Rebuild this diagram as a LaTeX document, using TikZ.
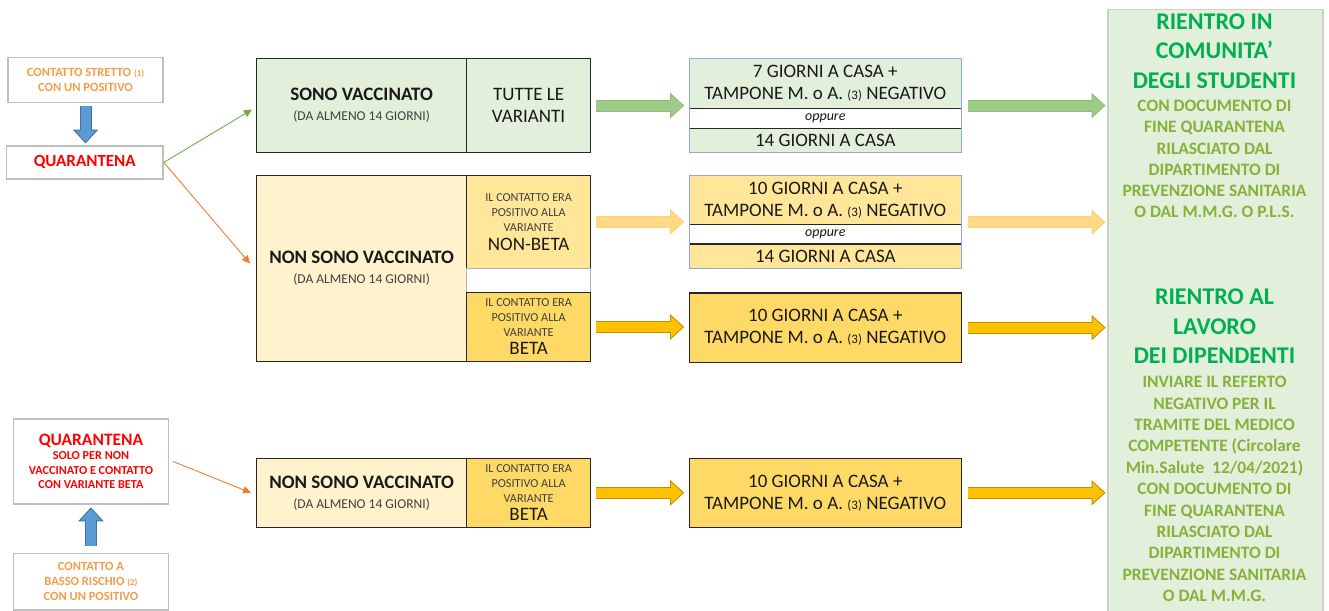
\documentclass[tikz,border=0pt]{standalone}
\usepackage{fontspec}
\setmainfont{Carlito}
\usetikzlibrary{arrows.meta}
\definecolor{vgreen}{HTML}{E2EFDA}
\definecolor{nvcell}{HTML}{FFF2CC}
\definecolor{nbcell}{HTML}{FFE699}
\definecolor{btcell}{HTML}{FFD966}
\definecolor{resedge}{HTML}{8FAADC}
\definecolor{garrow}{HTML}{9FCB88}
\definecolor{garrowe}{HTML}{8CBD74}
\definecolor{yarrow}{HTML}{FFD986}
\definecolor{yarrowe}{HTML}{FFD06C}
\definecolor{oarrow}{HTML}{FFC000}
\definecolor{oarrowe}{HTML}{C09000}
\definecolor{barrow}{HTML}{5B9BD5}
\definecolor{barrowe}{HTML}{41719C}
\definecolor{lgreen}{HTML}{70AD47}
\definecolor{lorange}{HTML}{ED7D31}
\definecolor{otext}{HTML}{F39C4A}
\definecolor{rtitle}{HTML}{00B050}
\definecolor{rsub}{HTML}{86B13A}
\definecolor{pedge}{HTML}{C8D4C0}

\tikzset{
  cell/.style={draw=black!85, line width=1.2pt, inner sep=0pt, anchor=north west, align=center, text=black!90},
  gbox/.style={draw=black!25, line width=1.5pt, inner sep=0pt, anchor=north west, align=center},
  big/.style={font=\fontsize{19}{22}\selectfont},
  small/.style={font=\fontsize{12.2}{15}\selectfont, text=black!75},
  thinarr/.style={draw=#1, line width=0.9pt, -{Triangle[length=8pt,width=7.5pt]}},
  blockarr/.style 2 args={draw=#1, line width=10pt,
    -{Triangle[length=11.5pt,width=21pt,line width=0pt]},
    preaction={draw=#2, line width=12pt, shorten >=-1.5pt,
      -{Triangle[length=14pt,width=25.6pt,line width=0pt]}}},
}
\newcommand{\dagiorni}{{\fontsize{13.5}{16}\selectfont\mdseries\color{black!75}(DA ALMENO 14 GIORNI)}}
\newcommand{\tampone}{TAMPONE M. o A. {\fontsize{13}{13}\selectfont(3)} NEGATIVO}

\begin{document}
\begin{tikzpicture}[x=1pt,y=-1pt]
\useasboundingbox (0,0) rectangle (1329,610);

\node[gbox, minimum width=155pt, minimum height=45pt, text=otext, font=\fontsize{12.5}{15}\selectfont\bfseries] (cs) at (7.3,56.7) {CONTATTO STRETTO {\fontsize{9}{9}\selectfont(1)}\\CON UN POSITIVO};
\node[gbox, minimum width=156.6pt, minimum height=33.3pt, text=red, font=\fontsize{17}{20}\selectfont\bfseries] (q1) at (5.7,145) {QUARANTENA};
\node[gbox, minimum width=155pt, minimum height=85pt, text=red, font=\fontsize{12.2}{14.5}\selectfont\bfseries] (q2) at (12.7,418.3) {{\fontsize{17.4}{18}\selectfont QUARANTENA}\\SOLO PER NON\\VACCINATO E CONTATTO\\CON VARIANTE BETA};
\node[gbox, minimum width=155pt, minimum height=56.6pt, text=otext, font=\fontsize{12.5}{15}\selectfont\bfseries] (lr) at (12.7,552.7) {CONTATTO A\\BASSO RISCHIO {\fontsize{9}{9}\selectfont(2)}\\CON UN POSITIVO};

\node[cell, big, fill=vgreen, minimum width=210pt, minimum height=93.4pt] (sv) at (256,58.3) {\bfseries SONO VACCINATO\\[-2pt]\dagiorni};
\node[cell, big, fill=vgreen, minimum width=124pt, minimum height=93.4pt] (sva) at (466,58.3) {TUTTE LE\\VARIANTI};

\node[cell, big, fill=nvcell, minimum width=210pt, minimum height=186pt] (nsv) at (256,175) {\bfseries NON SONO VACCINATO\\[-2pt]\dagiorni};
\node[cell, small, fill=nbcell, minimum width=124pt, minimum height=92.7pt] (nb) at (466,175) {IL CONTATTO ERA\\POSITIVO ALLA\\VARIANTE\\[4pt]{\fontsize{19}{19}\selectfont\color{black!90}NON-BETA}};
\node[cell, draw=black!30, fill=white, minimum width=124pt, minimum height=24pt] (gap) at (466,267.7) {};
\node[cell, small, fill=btcell, minimum width=124pt, minimum height=69.3pt] (bt) at (466,291.7) {IL CONTATTO ERA\\POSITIVO ALLA\\VARIANTE\\[3pt]{\fontsize{19}{19}\selectfont\color{black!90}BETA}};

\node[cell, big, fill=nvcell, minimum width=210pt, minimum height=69pt] (nsv2) at (256,457.7) {\bfseries NON SONO VACCINATO\\[-2pt]\dagiorni};
\node[cell, small, fill=btcell, minimum width=124pt, minimum height=69pt] (bt2) at (466,457.7) {IL CONTATTO ERA\\POSITIVO ALLA\\VARIANTE\\[3pt]{\fontsize{19}{19}\selectfont\color{black!90}BETA}};

\node[cell, big, fill=vgreen, minimum width=272pt, minimum height=49.4pt] (r1a) at (688.7,58.3) {7 GIORNI A CASA +\\\tampone};
\node[cell, fill=white, minimum width=272pt, minimum height=20pt, font=\fontsize{14}{14}\selectfont\itshape] (r1b) at (688.7,107.7) {oppure};
\node[cell, big, fill=vgreen, minimum width=272pt, minimum height=24pt] (r1c) at (688.7,127.7) {14 GIORNI A CASA};
\node[draw=resedge, line width=1.2pt, inner sep=0pt, anchor=north west, minimum width=272pt, minimum height=93.4pt] (r1) at (688.7,58.3) {};

\node[cell, big, fill=nbcell, minimum width=272pt, minimum height=49pt] (r2a) at (688.7,175) {10 GIORNI A CASA +\\\tampone};
\node[cell, fill=white, minimum width=272pt, minimum height=19.3pt, font=\fontsize{14}{14}\selectfont\itshape] (r2b) at (688.7,224) {oppure};
\node[cell, big, fill=nbcell, minimum width=272pt, minimum height=24.7pt] (r2c) at (688.7,243.3) {14 GIORNI A CASA};
\node[draw=resedge, line width=1.2pt, inner sep=0pt, anchor=north west, minimum width=272pt, minimum height=93pt] (r2) at (688.7,175) {};

\node[cell, big, fill=btcell, minimum width=272pt, minimum height=69.4pt] (r3) at (688.7,292.3) {10 GIORNI A CASA +\\\tampone};
\node[cell, big, fill=btcell, minimum width=272pt, minimum height=69pt] (r4) at (688.7,457.7) {10 GIORNI A CASA +\\\tampone};

\node[draw=pedge, line width=1.5pt, fill=vgreen, inner sep=0pt, anchor=north west, minimum width=215pt, minimum height=606pt] (panel) at (1107,9) {};
\node[text=rtitle, align=center, font=\fontsize{24}{29.5}\selectfont\bfseries] (t1) at (1214.5,51) {RIENTRO IN\\COMUNITA’\\DEGLI STUDENTI};
\node[text=rsub, align=center, font=\fontsize{17.4}{21.2}\selectfont\bfseries] (s1) at (1214.5,159) {CON DOCUMENTO DI\\FINE QUARANTENA\\RILASCIATO DAL\\DIPARTIMENTO DI\\PREVENZIONE SANITARIA\\O DAL M.M.G. O P.L.S.};
\node[text=rtitle, align=center, font=\fontsize{24}{29.5}\selectfont\bfseries] (t2) at (1214.5,326.5) {RIENTRO AL\\LAVORO\\DEI DIPENDENTI};
\node[text=rsub, align=center, font=\fontsize{17.4}{21.4}\selectfont\bfseries] (s2) at (1214.5,489) {INVIARE IL REFERTO\\NEGATIVO PER IL\\TRAMITE DEL MEDICO\\COMPETENTE (Circolare\\Min.Salute\ \ 12/04/2021)\\CON DOCUMENTO DI\\FINE QUARANTENA\\RILASCIATO DAL\\DIPARTIMENTO DI\\PREVENZIONE SANITARIA\\O DAL M.M.G.};

\draw[blockarr={barrow}{barrowe}] ([yshift=-3pt]cs.south) -- ([yshift=3pt]cs.south |- q1.north);
\draw[blockarr={barrow}{barrowe}] ([yshift=7pt]lr.north) -- ([yshift=-4pt]lr.north |- q2.south);
\draw[thinarr=lgreen] (q1.east) -- ([xshift=-4pt,yshift=-4pt]sv.west);
\draw[thinarr=lorange] (q1.east) -- ([xshift=-6pt,yshift=5pt]nsv.west);
\draw[thinarr=lorange] ([xshift=4pt]q2.east) -- ([xshift=-5pt]nsv2.west);

\draw[blockarr={garrow}{garrowe}] ([xshift=5pt]sva.east) -- ([xshift=-6pt]r1.west |- sva.east);
\draw[blockarr={yarrow}{yarrowe}] ([xshift=5pt]nb.east) -- ([xshift=-6pt]r2.west |- nb.east);
\draw[blockarr={oarrow}{oarrowe}] ([xshift=5pt]bt.east) -- ([xshift=-6pt]r3.west |- bt.east);
\draw[blockarr={oarrow}{oarrowe}] ([xshift=5pt]bt2.east) -- ([xshift=-6pt]r4.west |- bt2.east);

\draw[blockarr={garrow}{garrowe}] ([xshift=6pt]r1.east) -- ([xshift=-3pt]panel.west |- r1.east);
\draw[blockarr={yarrow}{yarrowe}] ([xshift=6pt]r2.east) -- ([xshift=-3pt]panel.west |- r2.east);
\draw[blockarr={oarrow}{oarrowe}] ([xshift=6pt]r3.east) -- ([xshift=-3pt]panel.west |- r3.east);
\draw[blockarr={oarrow}{oarrowe}] ([xshift=6pt]r4.east) -- ([xshift=-3pt]panel.west |- r4.east);
\end{tikzpicture}
\end{document}
